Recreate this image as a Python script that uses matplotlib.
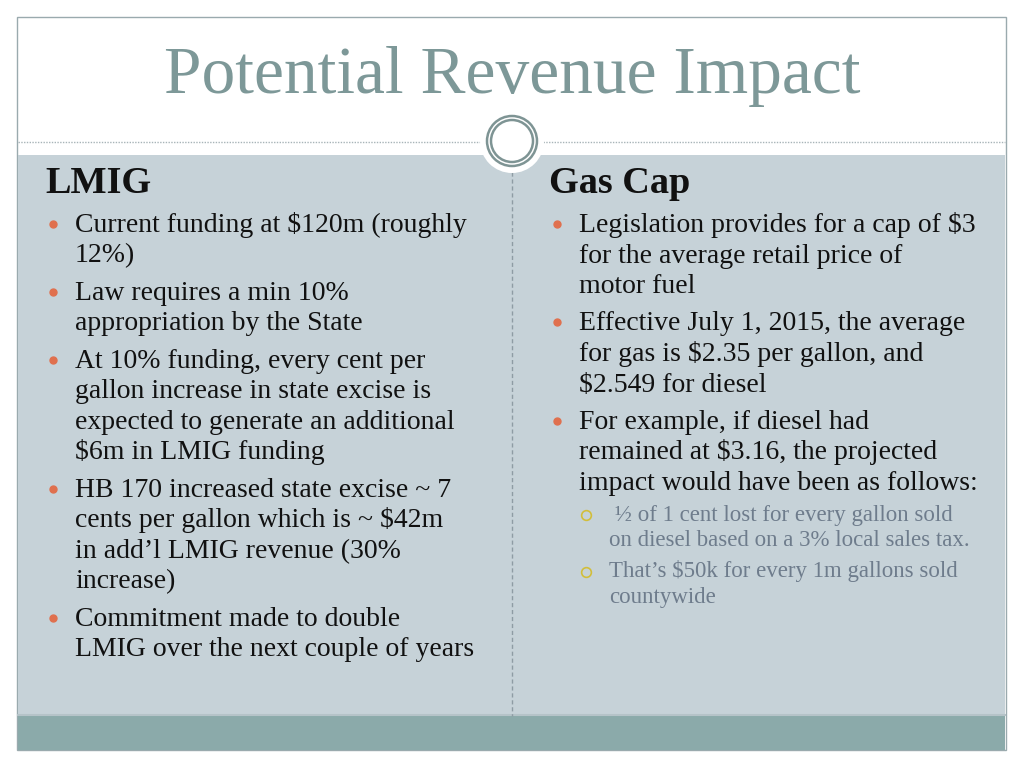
import matplotlib.pyplot as plt
from matplotlib.patches import Rectangle, Circle

title = "Potential Revenue Impact"

left_head = "LMIG"
left_bullets = [
    ["Current funding at $120m (roughly", "12%)"],
    ["Law requires a min 10%", "appropriation by the State"],
    ["At 10% funding, every cent per", "gallon increase in state excise is",
     "expected to generate an additional", "$6m in LMIG funding"],
    ["HB 170 increased state excise ~ 7", "cents per gallon which is ~ $42m",
     "in add\u2019l LMIG revenue (30%", "increase)"],
    ["Commitment made to double", "LMIG over the next couple of years"],
]

right_head = "Gas Cap"
right_bullets = [
    ["Legislation provides for a cap of $3", "for the average retail price of", "motor fuel"],
    ["Effective July 1, 2015, the average", "for gas is $2.35 per gallon, and", "$2.549 for diesel"],
    ["For example, if diesel had", "remained at $3.16, the projected",
     "impact would have been as follows:"],
]
right_sub = [
    [" \u00bd of 1 cent lost for every gallon sold", "on diesel based on a 3% local sales tax."],
    ["That\u2019s $50k for every 1m gallons sold", "countywide"],
]

serif = ["Liberation Serif", "DejaVu Serif"]
text_c = "#111111"
sub_c = "#6E7C8C"
dot_c = "#E0704E"
ring_c = "#D2BE3A"

fig = plt.figure(figsize=(10.24, 7.68), dpi=100)
ax = fig.add_axes([0, 0, 1, 1])
ax.set_xlim(0, 1024)
ax.set_ylim(768, 0)
ax.axis("off")

# slide frame
ax.add_patch(Rectangle((17, 17), 989, 733, facecolor="white", edgecolor="#9AAAAE", lw=1))
ax.add_patch(Rectangle((18, 155), 987, 561, facecolor="#C6D2D8", edgecolor="none"))
ax.add_patch(Rectangle((18, 716), 987, 34, facecolor="#8BAAAA", edgecolor="none"))
ax.plot([18, 1005], [715, 715], color="#B5C3C8", lw=1.5)
ax.plot([18, 1005], [142, 142], color="#A8B4B8", lw=1, ls=(0, (1, 1)))
ax.plot([512, 512], [172, 716], color="#8E9CA4", lw=1, ls=(0, (3, 2)))

# centre badge
ax.add_patch(Circle((512, 141), 32, facecolor="white", edgecolor="none", zorder=3))
ax.add_patch(Circle((512, 141), 25, facecolor="white", edgecolor="#7E9494", lw=1.8, zorder=4))
ax.add_patch(Circle((512, 141), 21, facecolor="white", edgecolor="#7E9494", lw=1.8, zorder=4))

ax.text(512, 93, title, ha="center", va="baseline", fontsize=48.5,
        color="#7D9898", family=serif)

line_h = 30.6
gap = 6.6
fs = 20.0


def column(x0, head, bullets, y0):
    ax.text(x0 - 30, 193, head, ha="left", va="baseline", fontsize=27.5,
            fontweight="bold", color=text_c, family=serif)
    y = y0
    for lines in bullets:
        ax.plot(x0 - 22, y - 8, "o", ms=5, color=dot_c)
        for ln in lines:
            ax.text(x0, y, ln, ha="left", va="baseline", fontsize=fs,
                    color=text_c, family=serif)
            y += line_h
        y += gap
    return y


column(75, left_head, left_bullets, 232)
column(579, right_head, right_bullets, 232)

y = 521
for lines in right_sub:
    ax.plot(586, y - 6, "o", ms=7, mfc="none", mec=ring_c, mew=1.2)
    for ln in lines:
        ax.text(609, y, ln, ha="left", va="baseline", fontsize=16.5,
                color=sub_c, family=serif)
        y += 25.5
    y += 5.5

fig.savefig("out.png", dpi=100)
